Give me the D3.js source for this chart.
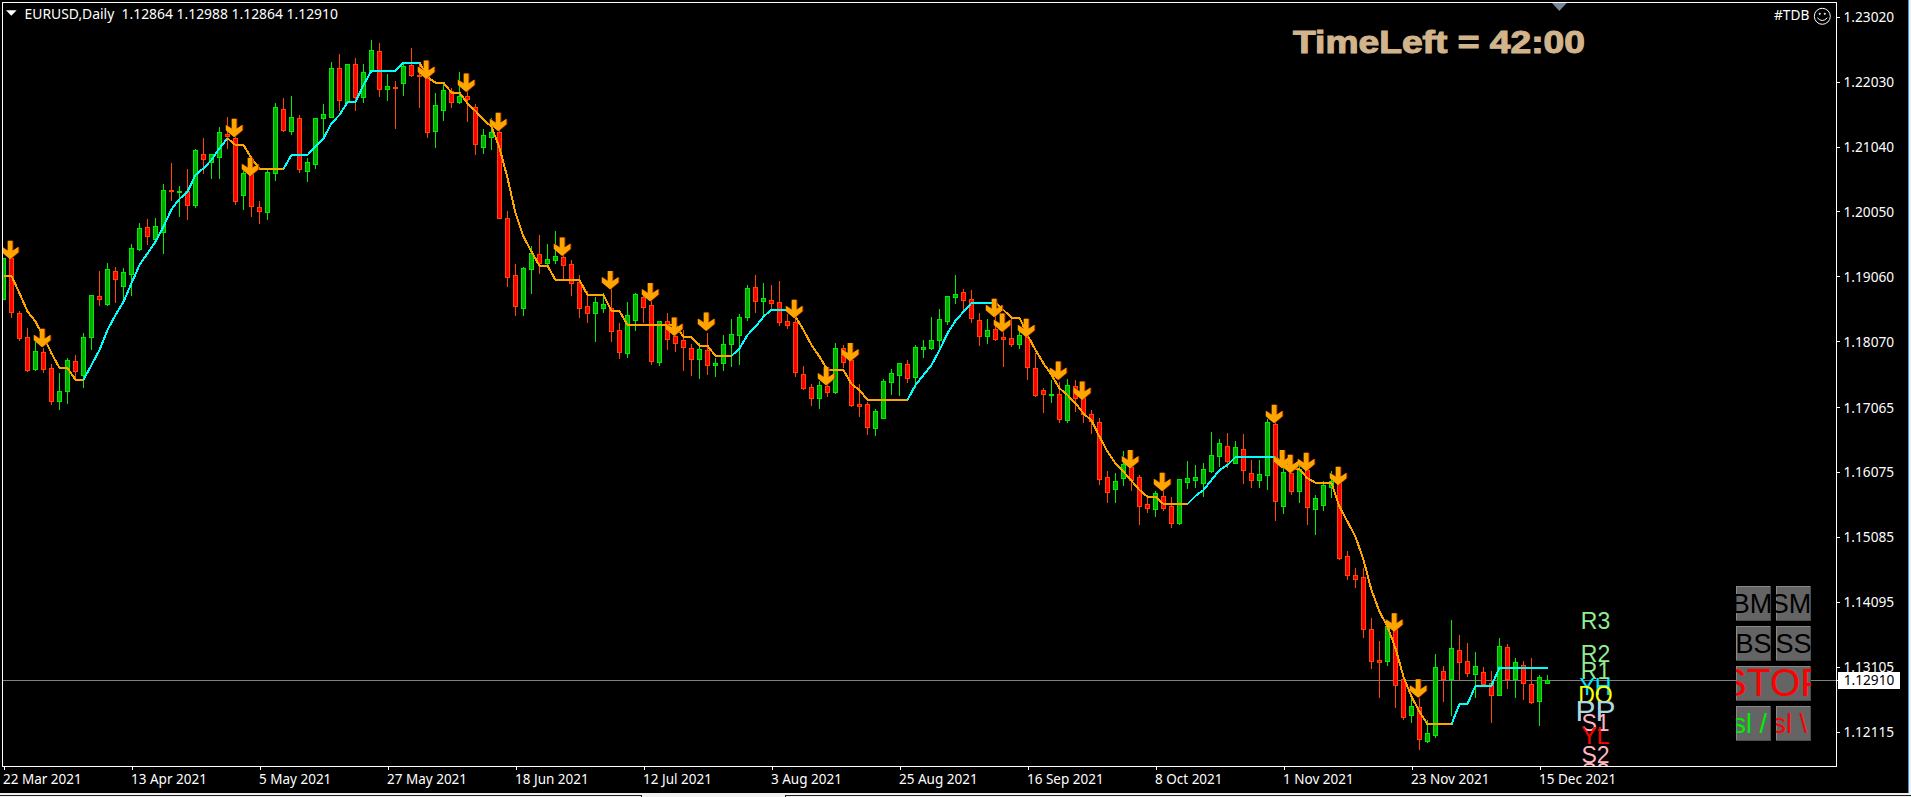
<!DOCTYPE html>
<html><head><meta charset="utf-8">
<style>html,body{margin:0;padding:0;background:#000;overflow:hidden}svg{display:block}</style>
<script src="https://cdn.jsdelivr.net/npm/d3@7"></script>
</head><body><svg id="c" width="1911" height="797"></svg>
<script>
const opens=[1.18710,1.19335,1.18496,1.18130,1.17642,1.17901,1.17657,1.17164,1.17306,1.17764,
1.17550,1.18130,1.18760,1.18643,1.19137,1.18908,1.19101,1.19482,1.19808,1.19625,
1.19731,1.20377,1.20347,1.20357,1.20153,1.20921,1.20809,1.20886,1.21231,1.21165,
1.20306,1.20631,1.20113,1.20047,1.20641,1.21607,1.21282,1.21470,1.20672,1.20779,
1.21470,1.21496,1.22233,1.21719,1.22294,1.21790,1.22197,1.22492,1.21923,1.21948,
1.22004,1.22279,1.22126,1.22131,1.21282,1.21602,1.21882,1.21724,1.21806,1.21638,
1.21033,1.21191,1.21267,1.19944,1.19075,1.18582,1.19177,1.19395,1.19268,1.19314,
1.19350,1.19243,1.18968,1.18602,1.18506,1.18582,1.18572,1.18236,1.17896,1.18399,
1.18739,1.18617,1.17758,1.18373,1.18150,1.18084,1.17962,1.17804,1.17931,1.17712,
1.17743,1.18033,1.18170,1.18445,1.18892,1.18678,1.18694,1.18663,1.18373,1.18358,
1.17565,1.17367,1.17209,1.17392,1.17301,1.17962,1.17784,1.17113,1.17108,1.16752,
1.16904,1.17453,1.17560,1.17718,1.17529,1.17957,1.17972,1.18094,1.18384,1.18750,
1.18816,1.18709,1.18389,1.18155,1.18257,1.18130,1.18114,1.18033,1.18140,1.17657,
1.17321,1.17250,1.17260,1.16869,1.17382,1.17225,1.16955,1.16833,1.15994,1.15821,
1.15989,1.16157,1.15994,1.15582,1.15516,1.15704,1.15552,1.15298,1.15928,1.15959,
1.15913,1.16091,1.16325,1.16467,1.16218,1.16421,1.16055,1.15959,1.16035,1.16803,
1.15562,1.16055,1.15791,1.16106,1.15516,1.15577,1.15842,1.15903,1.14794,1.14499,
1.14469,1.13675,1.13203,1.13187,1.13767,1.12913,1.12374,1.12486,1.11967,1.12059,
1.13035,1.12913,1.13355,1.13187,1.12999,1.13020,1.12852,1.12679,1.13401,1.12923,
1.13126,1.12837,1.12587,1.12864];
const highs=[1.19360,1.19360,1.18547,1.18283,1.18079,1.17988,1.17744,1.17601,1.17835,1.17876,
1.18211,1.18791,1.19157,1.19279,1.19218,1.19198,1.19564,1.19884,1.19945,1.19960,
1.20484,1.20799,1.20448,1.20713,1.21013,1.21180,1.20936,1.21353,1.21506,1.21267,
1.20682,1.20784,1.20225,1.20708,1.21719,1.21790,1.21821,1.21531,1.20886,1.21485,
1.21709,1.22350,1.22462,1.22299,1.22401,1.22309,1.22675,1.22634,1.22157,1.22055,
1.22309,1.22558,1.22334,1.22309,1.21872,1.22004,1.21943,1.22187,1.22004,1.21699,
1.21323,1.21491,1.21546,1.20071,1.19258,1.19217,1.19533,1.19705,1.19563,1.19766,
1.19512,1.19319,1.19095,1.18851,1.18760,1.18816,1.18877,1.18363,1.18678,1.18816,
1.18800,1.18699,1.18394,1.18516,1.18190,1.18251,1.18038,1.18053,1.18216,1.17835,
1.18180,1.18424,1.18501,1.18943,1.19095,1.18973,1.18943,1.19004,1.18495,1.18445,
1.17707,1.17433,1.17479,1.17580,1.18053,1.18023,1.17885,1.17433,1.17163,1.17046,
1.17509,1.17662,1.17753,1.17799,1.18028,1.18104,1.18455,1.18577,1.18775,1.19095,
1.18882,1.18867,1.18516,1.18419,1.18546,1.18343,1.18470,1.18318,1.18241,1.17911,
1.17367,1.17489,1.17469,1.17509,1.17489,1.17326,1.17031,1.16909,1.16106,1.16076,
1.16411,1.16259,1.16040,1.15689,1.15801,1.15852,1.15710,1.15984,1.16259,1.16198,
1.16228,1.16696,1.16594,1.16686,1.16564,1.16670,1.16279,1.16274,1.16894,1.16920,
1.16259,1.16157,1.16182,1.16208,1.15740,1.15954,1.16106,1.16004,1.14885,1.14621,
1.14631,1.13858,1.13513,1.13767,1.13869,1.12954,1.12649,1.12649,1.12303,1.13309,
1.13126,1.13828,1.13604,1.13482,1.13340,1.13116,1.13055,1.13553,1.13462,1.13248,
1.13208,1.13248,1.12989,1.12988];
const lows=[1.18710,1.18435,1.18089,1.17622,1.17632,1.17601,1.17113,1.17042,1.17134,1.17489,
1.17378,1.17957,1.18618,1.18618,1.18669,1.18725,1.18776,1.19462,1.19554,1.19564,
1.19421,1.20225,1.19981,1.19940,1.20123,1.20631,1.20565,1.20565,1.21018,1.20169,
1.20092,1.19981,1.19869,1.19940,1.20535,1.21282,1.21236,1.20657,1.20519,1.20718,
1.21191,1.21485,1.21597,1.21709,1.21597,1.21724,1.22182,1.21816,1.21750,1.21323,
1.21826,1.22116,1.21648,1.21191,1.21038,1.21445,1.21648,1.21709,1.21435,1.20926,
1.20947,1.21008,1.19955,1.18912,1.18470,1.18470,1.18811,1.19116,1.19207,1.19268,
1.19014,1.18775,1.18445,1.18368,1.18079,1.18521,1.18079,1.17819,1.17835,1.18241,
1.18368,1.17723,1.17707,1.17957,1.17926,1.17631,1.17555,1.17514,1.17570,1.17540,
1.17631,1.17692,1.17728,1.18394,1.18516,1.18445,1.18546,1.18323,1.18272,1.17545,
1.17341,1.17102,1.17052,1.17240,1.17280,1.17682,1.17087,1.16930,1.16655,1.16640,
1.16899,1.17260,1.17250,1.17448,1.17377,1.17829,1.17951,1.17936,1.18333,1.18648,
1.18546,1.18363,1.18013,1.18038,1.18089,1.17692,1.17997,1.17967,1.17494,1.17235,
1.16991,1.17143,1.16843,1.16843,1.17006,1.16838,1.16675,1.15893,1.15618,1.15618,
1.15877,1.15801,1.15282,1.15465,1.15404,1.15496,1.15237,1.15282,1.15832,1.15852,
1.15710,1.16070,1.16167,1.16157,1.16218,1.15908,1.15847,1.15852,1.15816,1.15343,
1.15450,1.15740,1.15618,1.15282,1.15130,1.15496,1.15699,1.14749,1.14438,1.14326,
1.13564,1.13091,1.12638,1.13131,1.12496,1.12308,1.12267,1.11850,1.11957,1.12038,
1.12588,1.12364,1.12923,1.12964,1.12649,1.12816,1.12262,1.12669,1.12781,1.12638,
1.12608,1.12547,1.12221,1.12864];
const closes=[1.19335,1.18511,1.18125,1.17637,1.17927,1.17652,1.17164,1.17306,1.17779,1.17622,
1.18130,1.18771,1.18720,1.19167,1.19015,1.19121,1.19487,1.19792,1.19670,1.19823,
1.20372,1.20367,1.20357,1.20153,1.20982,1.20855,1.20921,1.21257,1.21201,1.20214,
1.20631,1.20138,1.20062,1.20647,1.21638,1.21287,1.21485,1.20702,1.20799,1.21470,
1.21531,1.22233,1.21755,1.22294,1.21796,1.22172,1.22517,1.21923,1.21958,1.21938,
1.22273,1.22136,1.22111,1.21267,1.21668,1.21897,1.21724,1.21806,1.21760,1.21084,
1.21216,1.21262,1.19955,1.19055,1.18612,1.19182,1.19411,1.19258,1.19319,1.19365,
1.19238,1.18963,1.18582,1.18506,1.18663,1.18633,1.18231,1.17911,1.18465,1.18785,
1.18597,1.17774,1.18373,1.18109,1.18048,1.17987,1.17804,1.17946,1.17712,1.17733,
1.18023,1.18175,1.18434,1.18877,1.18689,1.18724,1.18658,1.18368,1.18323,1.17606,
1.17362,1.17209,1.17397,1.17301,1.17962,1.17758,1.17092,1.17087,1.16767,1.17001,
1.17458,1.17580,1.17733,1.17514,1.17977,1.17977,1.18084,1.18404,1.18755,1.18785,
1.18704,1.18429,1.18155,1.18236,1.18104,1.18109,1.18033,1.18160,1.17682,1.17250,
1.17270,1.17265,1.16884,1.17397,1.17209,1.16955,1.16848,1.15974,1.15776,1.15933,
1.16203,1.15954,1.15562,1.15532,1.15750,1.15532,1.15303,1.15964,1.15979,1.15994,
1.16116,1.16330,1.16513,1.16248,1.16452,1.16111,1.15959,1.16040,1.16833,1.15638,
1.16070,1.15791,1.16116,1.15547,1.15674,1.15872,1.15943,1.14769,1.14499,1.14438,
1.13675,1.13198,1.13182,1.13726,1.12821,1.12343,1.12506,1.12008,1.12089,1.13096,
1.12918,1.13386,1.13182,1.13015,1.13111,1.12847,1.12679,1.13416,1.12923,1.13172,
1.12862,1.12572,1.12943,1.12910];
const trendLine=[1.19065,1.19065,1.18801,1.18527,1.18369,1.18140,1.17886,1.17662,1.17662,1.17484,
1.17484,1.17708,1.17937,1.18242,1.18471,1.18674,1.18954,1.19233,1.19411,1.19589,
1.19818,1.20082,1.20240,1.20352,1.20606,1.20708,1.20835,1.21013,1.21165,1.21063,
1.21063,1.20860,1.20697,1.20697,1.20697,1.20697,1.20911,1.20911,1.20911,1.21038,
1.21165,1.21394,1.21521,1.21719,1.21719,1.21979,1.22197,1.22197,1.22197,1.22197,
1.22319,1.22319,1.22319,1.22095,1.22014,1.22014,1.21862,1.21862,1.21699,1.21582,
1.21445,1.21343,1.21018,1.20560,1.20021,1.19665,1.19436,1.19222,1.19222,1.19004,
1.19004,1.19004,1.19004,1.18775,1.18775,1.18775,1.18531,1.18531,1.18317,1.18317,
1.18317,1.18317,1.18317,1.18317,1.18317,1.18134,1.18134,1.18002,1.18002,1.17845,
1.17845,1.17845,1.17962,1.18165,1.18292,1.18445,1.18551,1.18551,1.18551,1.18445,
1.18241,1.18012,1.17835,1.17631,1.17631,1.17631,1.17418,1.17326,1.17174,1.17174,
1.17174,1.17174,1.17174,1.17174,1.17402,1.17555,1.17707,1.17936,1.18190,1.18384,
1.18521,1.18653,1.18653,1.18653,1.18653,1.18546,1.18429,1.18429,1.18165,1.17936,
1.17733,1.17555,1.17352,1.17250,1.17123,1.16970,1.16859,1.16614,1.16386,1.16208,
1.16081,1.15943,1.15801,1.15699,1.15699,1.15588,1.15588,1.15588,1.15588,1.15710,
1.15801,1.15954,1.16106,1.16182,1.16304,1.16304,1.16304,1.16304,1.16304,1.16304,
1.16198,1.16121,1.16121,1.15979,1.15913,1.15913,1.15913,1.15547,1.15318,1.15089,
1.14733,1.14275,1.13945,1.13716,1.13386,1.12954,1.12649,1.12420,1.12227,1.12227,
1.12227,1.12227,1.12537,1.12537,1.12816,1.12816,1.12816,1.13091,1.13091,1.13091,
1.13091,1.13091,1.13091,1.13091];
const trendBreaks=[0,10,28,35,52,91,98,113,124,148,159,181,193];
const trendColors=["#ffa500","#00ffff"];
const arrowBars=[1,5,29,31,53,58,62,70,76,81,84,88,99,103,106,124,125,128,132,135,141,145,159,160,161,163,167,174,177];
const arrowPrices=[1.19320,1.17977,1.21180,1.20586,1.22070,1.21872,1.21272,1.19370,1.18861,1.18678,1.18150,1.18226,1.18419,1.17397,1.17763,1.18435,1.18211,1.18130,1.17479,1.17174,1.16131,1.15781,1.16818,1.16131,1.16055,1.16086,1.15872,1.13640,1.12633];
const priceTicks=[1.23020,1.22030,1.21040,1.20050,1.19060,1.18070,1.17065,1.16075,1.15085,1.14095,1.13105,1.12115];
const dateBars=[0,16,32,48,64,80,96,112,128,144,160,176,192];
const dateLabels=["22 Mar 2021","13 Apr 2021","5 May 2021","27 May 2021","18 Jun 2021","12 Jul 2021","3 Aug 2021","25 Aug 2021","16 Sep 2021","8 Oct 2021","1 Nov 2021","23 Nov 2021","15 Dec 2021"];
const pivotNames=["S3","R3","R2","R1","YH","DO","PP","S1","YL","S2"];
const pivotPrices=[1.11377,1.13681,1.13173,1.12913,1.12674,1.12556,1.12282,1.12125,1.11922,1.11637];
const pivotColors=["#ffb6c1","#90ee90","#90ee90","#90ee90","#00e5ff","#ffff00","#add8e6","#ffb6c1","#ff0000","#ffb6c1"];
const pivotSizes=[23,23,23,23,23,23,30,23,23,23];
const lastPrice=1.12910;

const svg=d3.select("#c");
const F={l:2.5,t:2.5,r:1836.5,b:766.5};
const x=d3.scaleLinear().domain([0,193]).range([3.33,1547.33]);
const y=d3.scaleLinear().domain([1.12115,1.2302]).range([731.7,16.7]);
const px=i=>Math.floor(x(i))+0.5;
const py=v=>Math.round(y(v))+0.5;
const sans='"Noto Sans",sans-serif', arial='"Liberation Sans",Arial,sans-serif';

svg.append("rect").attr("width",1911).attr("height",797).attr("fill","#000");
const defs=svg.append("defs");
defs.append("clipPath").attr("id","plot").append("rect").attr("x",F.l).attr("y",F.t).attr("width",F.r-F.l).attr("height",F.b-F.t);

const plot=svg.append("g").attr("clip-path","url(#plot)");
plot.append("line").attr("x1",F.l).attr("x2",F.r).attr("y1",py(lastPrice)).attr("y2",py(lastPrice))
  .attr("stroke","#808080").attr("shape-rendering","crispEdges");

// candles
const bars=d3.range(opens.length);
const up=i=>closes[i]>=opens[i];
const cg=plot.append("g").attr("shape-rendering","crispEdges");
cg.selectAll("line.w").data(bars).join("line").attr("class","w")
  .attr("x1",px).attr("x2",px).attr("y1",i=>py(highs[i])).attr("y2",i=>py(lows[i])+0.5)
  .attr("stroke",i=>up(i)?"#00ee00":"#ff4500");
cg.selectAll("rect.b").data(bars).join("rect").attr("class","b")
  .attr("x",i=>px(i)-2).attr("width",4)
  .attr("y",i=>py(Math.max(opens[i],closes[i])))
  .attr("height",i=>Math.max(1,py(Math.min(opens[i],closes[i]))-py(Math.max(opens[i],closes[i]))))
  .attr("fill",i=>up(i)?"#00aa00":"#ff0000")
  .attr("stroke",i=>up(i)?"#00ee00":"#ff4500");

// trend line
const lineGen=d3.line().x(i=>px(i)).y(i=>y(trendLine[i]));
d3.pairs(trendBreaks).forEach(([a,b],k)=>{
  plot.append("path").attr("d",lineGen(d3.range(a,b+1))).attr("fill","none")
    .attr("stroke",trendColors[k%2]).attr("stroke-width",2).attr("shape-rendering","crispEdges");
});

// arrows
const arrowShape=d3.line()([[-2.4,-18.5],[2.4,-18.5],[2.4,-8.5],[8.3,-12.5],[8.3,-7],[0,0],[-8.3,-7],[-8.3,-12.5],[-2.4,-8.5]])+"Z";
const ag=plot.append("g");
ag.selectAll("path.s").data(arrowBars).join("path").attr("class","s").attr("d",arrowShape)
  .attr("transform",(b,k)=>`translate(${x(b)-0.3},${y(arrowPrices[k])})`).attr("fill","#a02800");
ag.selectAll("path.a").data(arrowBars).join("path").attr("class","a").attr("d",arrowShape)
  .attr("transform",(b,k)=>`translate(${x(b)-1.3},${y(arrowPrices[k])})`).attr("fill","#ffa500");

// pivot labels
plot.selectAll("text.p").data(pivotNames).join("text").attr("class","p")
  .attr("x",1595.5).attr("y",(d,i)=>y(pivotPrices[i])).attr("text-anchor","middle")
  .attr("font-family",arial).attr("font-size",(d,i)=>pivotSizes[i]).attr("fill",(d,i)=>pivotColors[i]).text(d=>d);

// frame
svg.append("rect").attr("x",F.l).attr("y",F.t).attr("width",F.r-F.l).attr("height",F.b-F.t)
  .attr("fill","none").attr("stroke","#fff").attr("shape-rendering","crispEdges");

// axes
const yAxis=d3.axisRight(y).tickValues(priceTicks).tickFormat(d3.format(".5f")).tickSize(3).tickSizeOuter(0).tickPadding(4);
const ya=svg.append("g").attr("transform",`translate(${F.r},0)`).call(yAxis);
ya.select(".domain").remove();
ya.selectAll("line").attr("stroke","#fff").attr("shape-rendering","crispEdges");
ya.selectAll("text").attr("fill","#fff").attr("font-family",sans).attr("font-size",13.7).attr("dy","0.36em");

const xAxis=d3.axisBottom(d3.scaleOrdinal().domain(dateBars).range(dateBars.map(b=>px(b)))).tickFormat((d,i)=>dateLabels[i]).tickSize(3).tickSizeOuter(0).tickPadding(0);
const xa=svg.append("g").attr("transform",`translate(0,${F.b})`).call(xAxis);
xa.select(".domain").remove();
xa.selectAll("line").attr("stroke","#fff").attr("shape-rendering","crispEdges");
xa.selectAll("text").attr("fill","#fff").attr("font-family",sans).attr("font-size",13.5).attr("text-anchor","start").attr("x",-1).attr("y",17.5).attr("dy",null);

// last price box
svg.append("rect").attr("x",1838).attr("y",py(lastPrice)-8.5).attr("width",62).attr("height",17).attr("fill","#fff");
svg.append("line").attr("x1",F.r).attr("x2",F.r+3).attr("y1",py(lastPrice)).attr("y2",py(lastPrice)).attr("stroke","#fff").attr("shape-rendering","crispEdges");
svg.append("text").attr("x",1843.7).attr("y",py(lastPrice)+4.8).attr("font-family",sans).attr("font-size",13.7).attr("fill","#000").text(d3.format(".5f")(lastPrice));

// header
svg.append("path").attr("d",d3.line()([[6,10.3],[16.7,10.3],[11.3,15.8]])+"Z").attr("fill","#fff");
svg.append("text").attr("x",24.5).attr("y",19).attr("font-family",sans).attr("font-size",13.9).attr("fill","#fff").style("white-space","pre").text("EURUSD,Daily  1.12864 1.12988 1.12864 1.12910");
svg.append("text").attr("x",1774).attr("y",20).attr("font-family",sans).attr("font-size",13.7).attr("fill","#fff").text("#TDB");
const sm=svg.append("g").attr("transform","translate(1822.3,16.3)").attr("fill","none").attr("stroke","#fff");
sm.append("circle").attr("r",8);
sm.append("path").attr("d","M-5,1.5 Q0,7 5,1.5");
sm.append("circle").attr("cx",-2.5).attr("cy",-2.5).attr("r",0.6).attr("fill","#fff");
sm.append("circle").attr("cx",2.5).attr("cy",-2.5).attr("r",0.6).attr("fill","#fff");
svg.append("path").attr("d",d3.line()([[1552,3],[1566.7,3],[1559.3,11]])+"Z").attr("fill","#778899");
svg.append("text").attr("x",1293).attr("y",52.7).attr("font-family",arial).attr("font-weight","bold").attr("font-size",32)
  .attr("fill","#d2b48c").attr("stroke","#d2b48c").attr("stroke-width",1.1).attr("textLength",292).attr("lengthAdjust","spacingAndGlyphs").text("TimeLeft = 42:00");

// buttons
const buttonNames=["BM","SM","BS","SS","STOP","sl /","sl \\"];
const buttonX=[1736,1776,1736,1776,1736,1736,1776];
const buttonY=[586,586,626,626,666,706,706];
const buttonW=[35,35,35,35,75,35,35];
const buttonFill=["#000","#000","#000","#000","#ff0000","#00ee00","#ff0000"];
const buttonSize=[27,27,27,27,39,27,27];
const buttonShift=[-1.5,-2.5,0,0,0,0,0];
buttonNames.forEach((n,i)=>{
  const g=svg.append("g").attr("transform",`translate(${buttonX[i]},${buttonY[i]})`);
  const w=buttonW[i],h=35,id="bt"+i;
  defs.append("clipPath").attr("id",id).append("rect").attr("width",w).attr("height",h);
  g.append("rect").attr("width",w).attr("height",h).attr("fill","#646464");
  g.append("path").attr("d",`M0,0H${w}V1H1V${h}H0Z`).attr("fill","#8a8a8a");
  g.append("path").attr("d",`M${w},${h}H0V${h-1}H${w-1}V0H${w}Z`).attr("fill","#4e4e4e");
  const tg=g.append("g").attr("clip-path",`url(#${id})`);
  const t=tg.append("text").attr("font-family",arial).attr("font-size",buttonSize[i]).attr("fill",buttonFill[i]).text(n).style("white-space","pre");
  if(i>=5) t.attr("x",-3.5).attr("y",26.5);
  else t.attr("x",w/2+buttonShift[i]).attr("text-anchor","middle").attr("y",i==4?30:27);
});

// window edge + tab strip
svg.append("rect").attr("x",1908).attr("y",0).attr("width",1).attr("height",793).attr("fill","#3d8fe0");
svg.append("rect").attr("x",1909).attr("y",0).attr("width",2).attr("height",797).attr("fill","#f0f0f0");
svg.append("rect").attr("x",0).attr("y",793).attr("width",1911).attr("height",4).attr("fill","#f0f0f0");
svg.append("rect").attr("x",0).attr("y",795).attr("width",642).attr("height",1).attr("fill","#222");
svg.append("rect").attr("x",785).attr("y",795).attr("width",1126).attr("height",1).attr("fill","#222");
svg.append("rect").attr("x",641).attr("y",795).attr("width",1).attr("height",2).attr("fill","#222");
svg.append("rect").attr("x",785).attr("y",795).attr("width",1).attr("height",2).attr("fill","#222");
</script></body></html>
